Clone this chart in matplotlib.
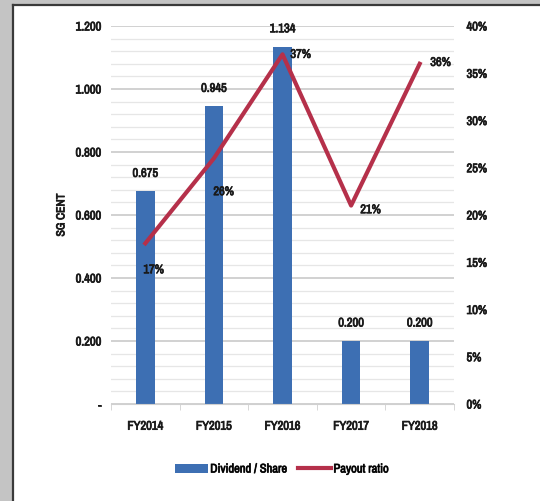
import numpy as np
import matplotlib.pyplot as plt
import matplotlib.patheffects as pe
from matplotlib import font_manager
from matplotlib.text import Text
from matplotlib.patches import Rectangle
from matplotlib.lines import Line2D
from matplotlib.ticker import FuncFormatter, MultipleLocator

years = ["FY2014", "FY2015", "FY2016", "FY2017", "FY2018"]
dividend = [0.675, 0.945, 1.134, 0.200, 0.200]
payout = [17, 26, 37, 21, 36]
left_ticks = [0.0, 0.2, 0.4, 0.6, 0.8, 1.0, 1.2]
right_ticks = [0, 5, 10, 15, 20, 25, 30, 35, 40]

BAR_COLOR = "#3d6fb3"
LINE_COLOR = "#b5304a"
TXT = "#1a1a1a"

# prefer a narrow face if one is installed
names = sorted({f.name for f in font_manager.fontManager.ttflist})
narrow = [n for n in names if "Narrow" in n or "Condensed" in n]
plt.rcParams['font.family'] = narrow[:1] + ['DejaVu Sans']
plt.rcParams['font.weight'] = 'bold'
FS = 9 if narrow else 8

fig = plt.figure(figsize=(5.40, 5.02), dpi=100)
fig.patch.set_facecolor("#c4c4c4")
# white panel with a dark edge on the left and top
fig.patches.append(Rectangle((13 / 540, 0), 1, (502 - 6) / 502, transform=fig.transFigure,
                             facecolor="white", edgecolor="none", zorder=-10))
fig.add_artist(Line2D([13 / 540, 13 / 540], [0, (502 - 5.5) / 502], color="#3a3a3a", lw=1.6))
fig.add_artist(Line2D([13 / 540, 1], [(502 - 5.5) / 502] * 2, color="#3a3a3a", lw=1.6))

ax = fig.add_axes([111 / 540, 97 / 502, 343 / 540, 378 / 502])
ax.set_facecolor("none")
x = np.arange(len(years))

ax.set_ylim(0, 1.2)
ax.set_xlim(-0.5, len(years) - 0.5)
ax.yaxis.set_minor_locator(MultipleLocator(0.04))
ax.set_yticks(left_ticks)
ax.set_yticklabels(["-" if v == 0 else "%.3f" % v for v in left_ticks])
ax.grid(axis="y", which="major", color="#c9c9c9", lw=1.2, zorder=0)
ax.grid(axis="y", which="minor", color="#e6e6e6", lw=0.9, zorder=0)
ax.set_axisbelow(True)

bars = ax.bar(x, dividend, width=0.27, color=BAR_COLOR, zorder=2)
for xi, v in zip(x, dividend):
    ax.annotate("%.3f" % v, (xi, v), xytext=(0, 9), textcoords="offset points",
                ha="center", va="bottom", fontsize=FS, color=TXT)

ax.set_xticks(x)
ax.set_xticklabels(years)
ax.set_xticks(np.arange(-0.5, len(years)), minor=True)
ax.tick_params(axis="x", which="major", length=0, pad=12, labelsize=FS, colors=TXT)
ax.tick_params(axis="x", which="minor", length=4, color="#d0d0d0")
ax.tick_params(axis="y", which="both", length=0, pad=7, labelsize=FS, colors=TXT)
for s in ["top", "right", "left"]:
    ax.spines[s].set_visible(False)
ax.spines["bottom"].set_color("#d0d0d0")
ax.set_ylabel("SG CENT", fontsize=8.5, fontweight="bold", color=TXT)
ax.yaxis.set_label_coords(-0.13, 0.5)

ax2 = ax.twinx()
ax2.set_ylim(0, 40)
ax2.set_yticks(right_ticks)
ax2.yaxis.set_major_formatter(FuncFormatter(lambda v, p: "%d%%" % v))
ax2.tick_params(axis="y", length=0, pad=9, labelsize=FS, colors=TXT)
for s in ax2.spines.values():
    s.set_visible(False)
line, = ax2.plot(x, payout, color=LINE_COLOR, lw=3, zorder=3)

# payout label positions around each point
offsets = [(6, -19), (7, -24), (13, 0), (14, -3), (15, 1)]
for xi, v, off in zip(x, payout, offsets):
    ax2.annotate("%d%%" % v, (xi, v), xytext=off, textcoords="offset points",
                 ha="center", va="center", fontsize=FS, color=TXT)

fig.legend([bars, line], ["Dividend / Share", "Payout ratio"], loc="center",
           bbox_to_anchor=(282 / 540, 1 - 470 / 502), ncol=2, frameon=False,
           fontsize=FS, handlelength=2.6, handleheight=0.7, columnspacing=0.9,
           handletextpad=0.2)

# the narrow face has no bold cut, so thicken the glyphs with a stroke
fig.canvas.draw()
for t in fig.findobj(Text):
    t.set_path_effects([pe.withStroke(linewidth=0.55, foreground=TXT)])

fig.savefig("out.png", dpi=100)
